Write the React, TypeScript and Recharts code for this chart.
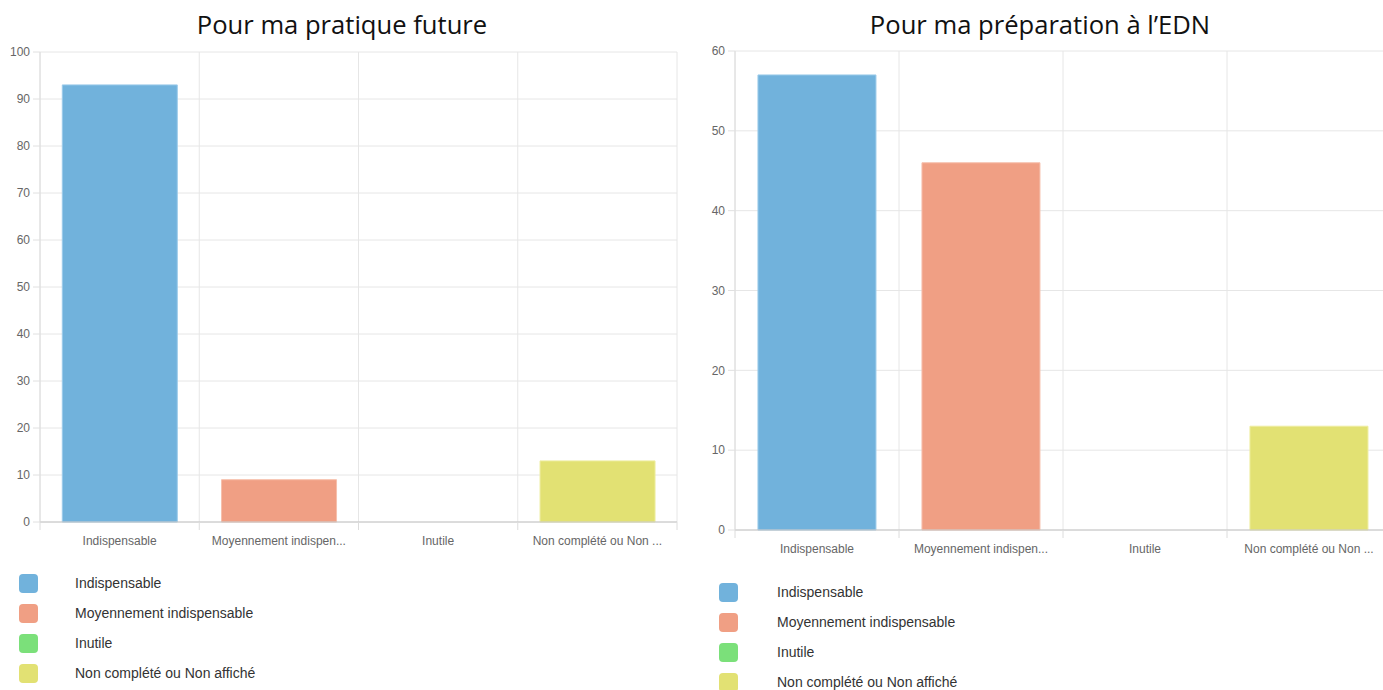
import React from "react";
import { BarChart, Bar, XAxis, YAxis, CartesianGrid, Cell } from "recharts";

const categories = ["Indispensable", "Moyennement indispen...", "Inutile", "Non complété ou Non ..."];
const legendLabels = ["Indispensable", "Moyennement indispensable", "Inutile", "Non complété ou Non affiché"];
const valuesPratique = [93, 9, 0, 13];
const valuesEDN = [57, 46, 0, 13];
const ticksPratique = [0, 10, 20, 30, 40, 50, 60, 70, 80, 90, 100];
const ticksEDN = [0, 10, 20, 30, 40, 50, 60];
const colors = ["#71b2dc", "#f09f84", "#7be07a", "#e2e173"];
const strokes = ["#9ccbea", "#f6bfac", "#a6eca5", "#eeed9f"];

const FONT = "'Liberation Sans', Arial, sans-serif";

const makeTick = (band: number) => (props: any) => {
  const { x, y, payload, index } = props;
  const lineTop = y - 14;
  return (
    <g>
      <line x1={x - band / 2} x2={x - band / 2} y1={lineTop} y2={lineTop + 8} stroke="#dcdcdc" />
      {index === categories.length - 1 ? (
        <line x1={x + band / 2} x2={x + band / 2} y1={lineTop} y2={lineTop + 8} stroke="#dcdcdc" />
      ) : null}
      <text x={x} y={y} dy="0.71em" textAnchor="middle" fill="#666" fontSize={12} fontFamily={FONT}>
        {payload.value}
      </text>
    </g>
  );
};

function Panel(props: {
  values: number[];
  ticks: number[];
  width: number;
  height: number;
  top: number;
  right: number;
  yWidth: number;
  xHeight: number;
}) {
  const { values, ticks, width, height, top, right, yWidth, xHeight } = props;
  const data = categories.map((c, i) => ({ name: c, value: values[i] }));
  const plotW = width - yWidth - right;
  const band = plotW / categories.length;
  return (
    <BarChart
      width={width}
      height={height}
      data={data}
      margin={{ top, right, left: 0, bottom: 0 }}
      barCategoryGap="14%"
    >
      <CartesianGrid
        stroke="#e6e6e6"
        verticalCoordinatesGenerator={({ offset }: any) =>
          categories.map((_, i) => offset.left + (i * offset.width) / categories.length).concat([offset.left + offset.width])
        }
      />
      <XAxis
        dataKey="name"
        height={xHeight}
        interval={0}
        tickLine={false}
        tickSize={8}
        tickMargin={6}
        axisLine={{ stroke: "#c4c4c4" }}
        tick={makeTick(band)}
      />
      <YAxis
        width={yWidth}
        domain={[ticks[0], ticks[ticks.length - 1]]}
        ticks={ticks}
        interval={0}
        tickSize={7}
        tickMargin={3}
        tickLine={{ stroke: "#e0e0e0" }}
        axisLine={{ stroke: "#dcdcdc" }}
        tick={{ fill: "#666", fontSize: 12, fontFamily: FONT }}
      />
      <Bar dataKey="value" isAnimationActive={false}>
        {data.map((_, i) => (
          <Cell key={i} fill={colors[i]} stroke={strokes[i]} strokeWidth={1} />
        ))}
      </Bar>
    </BarChart>
  );
}

function Legend(props: { left: number; top: number; textLeft: number }) {
  const { left, top, textLeft } = props;
  return (
    <div style={{ position: "absolute", left: 0, top: 0 }}>
      {legendLabels.map((l, i) => (
        <React.Fragment key={l}>
          <div
            style={{
              position: "absolute",
              left,
              top: top + i * 30 - 9.5,
              width: 19,
              height: 19,
              borderRadius: 4,
              background: colors[i],
            }}
          />
          <div
            style={{
              position: "absolute",
              left: textLeft,
              top: top + i * 30 - 10,
              lineHeight: "20px",
              fontSize: 14,
              fontFamily: FONT,
              color: "#333",
              whiteSpace: "nowrap",
            }}
          >
            {l}
          </div>
        </React.Fragment>
      ))}
    </div>
  );
}

const titleStyle: React.CSSProperties = {
  position: "absolute",
  top: 8,
  textAlign: "center",
  fontSize: 25.6,
  fontFamily: "'Open Sans', sans-serif",
  color: "#111",
  lineHeight: "34px",
};

export default function App() {
  return (
    <div
      style={{
        position: "absolute",
        left: 0,
        top: 0,
        width: 1383,
        height: 690,
        overflow: "hidden",
        background: "#fff",
      }}
    >
      <div style={{ ...titleStyle, left: 0, width: 684 }}>Pour ma pratique future</div>
      <div style={{ ...titleStyle, left: 690, width: 700 }}>Pour ma préparation à l’EDN</div>
      <div style={{ position: "absolute", left: 0, top: 0 }}>
        <Panel values={valuesPratique} ticks={ticksPratique} width={690} height={560} top={52} right={13} yWidth={40} xHeight={38} />
      </div>
      <div style={{ position: "absolute", left: 690, top: 0 }}>
        <Panel values={valuesEDN} ticks={ticksEDN} width={701} height={568} top={51} right={0} yWidth={45} xHeight={38} />
      </div>
      <Legend left={19} top={583} textLeft={75} />
      <Legend left={719} top={592} textLeft={777} />
    </div>
  );
}
